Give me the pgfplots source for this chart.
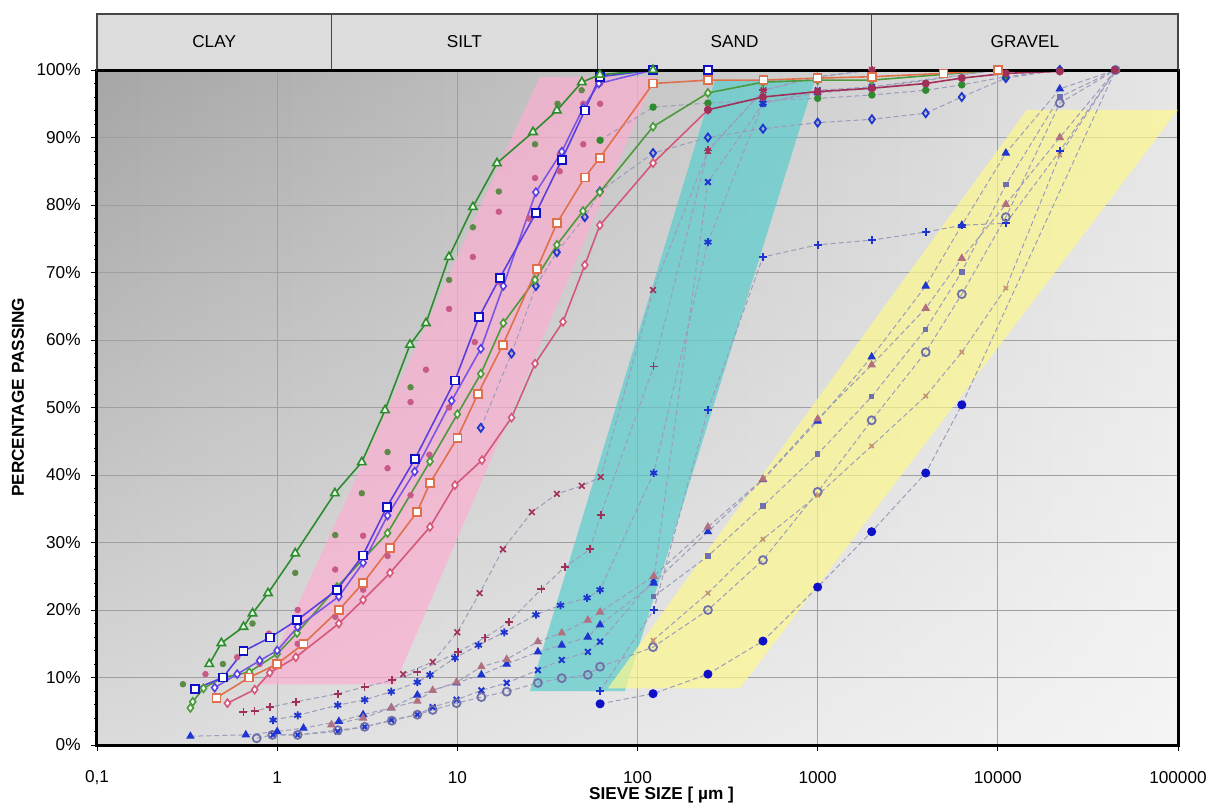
\documentclass[border=0pt]{standalone}
\usepackage{fontspec}
\setmainfont{Liberation Sans}
\usepackage{pgfplots}
\pgfplotsset{compat=1.18}
\usetikzlibrary{fadings}

\definecolor{gtri}{HTML}{2E8B2E}
\definecolor{vio}{HTML}{7B55E6}
\definecolor{vio2}{HTML}{5A3FE0}
\definecolor{ora}{HTML}{E0704C}
\definecolor{gdi}{HTML}{4C9A3C}
\definecolor{pdi}{HTML}{D4587A}
\definecolor{maroon}{HTML}{A0305A}
\definecolor{bl}{HTML}{1F35D0}
\definecolor{dkbl}{HTML}{1010C8}
\definecolor{gcirc}{HTML}{7070A8}
\definecolor{brtri}{HTML}{B07080}
\definecolor{tanx}{HTML}{C09070}
\definecolor{smsq}{HTML}{7070B0}
\definecolor{dashc}{HTML}{9C9CBC}
\definecolor{pinkdot}{HTML}{C85A8A}
\definecolor{olivedot}{HTML}{5E8A48}
\definecolor{bandpink}{HTML}{FCAFD1}
\definecolor{bandcyan}{HTML}{59CCCC}
\definecolor{bandyel}{HTML}{FDF88E}
\definecolor{boxgray}{HTML}{DCDCDC}
\definecolor{bgleft}{HTML}{A6A6A6}
\definecolor{bgright}{HTML}{E6E6E6}

\pgfplotsset{
  fine/.style={line width=0.8pt, mark size=2pt},
  low/.style={color=dashc, line width=0.5pt, dash pattern=on 2.5pt off 1.5pt, mark size=2pt},
  dots/.style={only marks, mark=*, mark size=1.4pt},
}

\begin{document}
\begin{tikzpicture}[font=\fontsize{8.6}{10.3}\selectfont]
\begin{axis}[name=a,
  scale only axis, width=540.5pt, height=337.5pt,
  xmode=log, log basis x=10,
  xmin=0.1, xmax=100000, ymin=0, ymax=100,
  xtick={0.1,1,10,100,1000,10000,100000},
  xticklabels={{0,1},1,10,100,1000,10000,100000},
  ytick={0,10,...,100},
  yticklabels={0\%,10\%,20\%,30\%,40\%,50\%,60\%,70\%,80\%,90\%,100\%},
  minor y tick num=4,
  tick align=outside, tick pos=left,
  major tick length=3pt, minor tick length=1.5pt,
  tick style={black, line width=0.4pt},
  xmajorgrids, xminorgrids, ymajorgrids,
  major grid style={color=gray!75, line width=0.45pt},
  minor grid style={color=gray!25, line width=0.4pt},
  axis line style={line width=1.5pt, black},
  axis background/.style={shade, left color=bgleft, right color=bgright,
     postaction={fill=white, path fading=north, fill opacity=0.6}},
  clip=false,
  xticklabel style={anchor=center, inner sep=0pt, yshift=-13.5pt},
  yticklabel style={anchor=east, inner sep=0pt, xshift=-5pt},
  xlabel={\bfseries SIEVE SIZE [ µm ]},
  ylabel={\bfseries PERCENTAGE PASSING},
  every axis x label/.style={at={(rel axis cs:0.5,0)}, anchor=center, yshift=-25pt, xshift=12pt},
  every axis y label/.style={at={(rel axis cs:0,0.515)}, anchor=center, xshift=-39.5pt, rotate=90},
]

% soil classification boxes
\draw[fill=boxgray, draw=gray!55!black, line width=0.6pt] (axis cs:0.1,100) rectangle (axis cs:2,108.3);
\draw[fill=boxgray, draw=gray!55!black, line width=0.6pt] (axis cs:2,100) rectangle (axis cs:60,108.3);
\draw[fill=boxgray, draw=gray!55!black, line width=0.6pt] (axis cs:60,100) rectangle (axis cs:2000,108.3);
\draw[fill=boxgray, draw=gray!55!black, line width=0.6pt] (axis cs:2000,100) rectangle (axis cs:100000,108.3);
\node at (axis cs:0.447,104.15) {CLAY};
\node at (axis cs:10.95,104.15) {SILT};
\node at (axis cs:346,104.15) {SAND};
\node at (axis cs:14142,104.15) {GRAVEL};

% envelopes
\addplot[draw=none, fill=bandpink, fill opacity=0.7] coordinates {(0.82,9)(4.5,9)(125,99)(28.7,99)} --cycle;
\addplot[draw=none, fill=bandcyan, fill opacity=0.7] coordinates {(25.3,8)(85.1,8)(964,98.5)(269,98.5)} --cycle;
\addplot[draw=none, fill=bandyel, fill opacity=0.7] coordinates {(68.5,8.4)(370,8.4)(100000,94.1)(14490,94.1)} --cycle;

% scattered dots in the fine band
\addplot[dots, mark options={fill=olivedot, draw=olivedot}] coordinates {(0.3,9)(0.5,12)(0.73,18)(1.26,25.5)(2.1,31.1)(2.95,37.3)(4.1,43.4)(5.5,53)(9,68.9)(12.2,76.7)(17,82)(27,89)(36,95)(49,97)(62,99)};
\addplot[dots, mark options={fill=pinkdot, draw=pinkdot}] coordinates {(0.4,10.5)(0.6,13)(0.9,16.5)(1.3,20)(2.1,26)(3,31)(4.1,41)(5.5,50.8)(6.7,55.6)(9,64.6)(12.2,72.3)(17,79)(27,84)(37,87.5)(50,95)(62,98)};
\addplot[dots, mark options={fill=pinkdot, draw=pinkdot}] coordinates {(0.5,10)(0.8,12)(1.3,15)(2.1,19)(3,23)(4.1,28)(5.5,37)(7,43)(9,50)(12.5,59.7)(17,68.6)(25,78)(37,85)(50,89)(62,95)(122,98)};

% lower (sand / gravel) series with dashed connectors
\addplot[low, mark=x, mark options={solid, draw=maroon, line width=0.8pt}] coordinates {(5,10.5)(7.3,12.3)(10,16.7)(13.3,22.5)(17.9,29)(25.9,34.5)(35.7,37.2)(49.1,38.4)(62.5,39.7)(122,67.4)(246,88)(500,97)(1000,99)(2000,100)};
\addplot[low, mark=+, mark options={solid, draw=maroon, line width=0.8pt}] coordinates {(0.65,4.9)(0.75,5)(0.91,5.6)(1.27,6.4)(2.17,7.6)(3.06,8.6)(4.33,9.6)(6.0,10.8)(10.1,13.8)(14.2,15.9)(19.3,18.2)(29.3,23.1)(39.5,26.4)(54.5,29)(62.5,34.1)(123,56.1)(246,88.1)(500,97)(1000,99)(2000,100)};
\addplot[low, mark=asterisk, mark options={solid, draw=bl, line width=0.9pt}] coordinates {(0.95,3.7)(1.3,4.4)(2.17,5.9)(3.06,6.7)(4.3,7.9)(6,9.3)(7.05,10.4)(9.7,12.9)(13.1,14.8)(18.2,16.7)(27.3,19.3)(37.4,20.7)(52.5,21.8)(62,23)(123,40.3)(246,74.5)(497,95.1)(1000,96.6)(2000,97.3)(10000,100)};
\addplot[low, mark=x, mark options={solid, draw=bl, line width=1pt}] coordinates {(0.95,1.5)(1.3,1.5)(2.17,2)(3.06,2.7)(4.3,3.7)(6,4.5)(7.3,5.6)(9.9,6.7)(13.6,8.1)(18.8,9.2)(28,11.1)(38,12.6)(53,13.8)(62,15.3)(123,24.5)(246,83.4)(497,95)(1000,97)(2000,97.5)(10000,100)};
\addplot[low, mark=+, mark options={solid, draw=bl, line width=1pt}] coordinates {(62,8)(123,20)(246,49.6)(497,72.3)(1000,74.1)(2000,74.8)(3980,76)(6310,77)(11080,77.3)(22080,88)(45000,100)};
\addplot[low, mark=*, mark options={solid, draw=dkbl, fill=dkbl}] coordinates {(62,6.1)(122,7.6)(246,10.5)(497,15.4)(1000,23.4)(1995,31.6)(3980,40.3)(6310,50.4)(45000,100)};
\addplot[low, mark=o, mark options={solid, draw=gcirc, line width=0.9pt}] coordinates {(0.77,1)(0.94,1.5)(1.3,1.5)(2.17,2.2)(3.06,2.7)(4.33,3.6)(6,4.5)(7.3,5.2)(9.9,6.2)(13.6,7.1)(18.8,7.9)(28,9.2)(38,9.9)(53,10.4)(62,11.6)(122,14.5)(246,20)(497,27.4)(1000,37.5)(1995,48.1)(3980,58.2)(6310,66.8)(11080,78.2)(22080,95.1)(45000,100)};
\addplot[low, mark=triangle*, mark options={solid, draw=bl, fill=bl}] coordinates {(0.33,1.3)(0.67,1.5)(1,2)(1.4,2.5)(2.2,3.5)(3,4.5)(4.3,5.5)(6,7.4)(9.9,9.2)(13.6,10.4)(18.8,12)(28,13.8)(38,14.8)(53,16)(62,17.8)(123,24)(246,31.6)(497,39.3)(1000,48)(1995,57.5)(3980,68)(6310,77)(11080,87.7)(22080,97.2)(45000,100)};
\addplot[low, mark=triangle*, mark options={solid, draw=brtri, fill=brtri}] coordinates {(2,3)(3,4)(4.3,5.5)(6,6.5)(7.3,8.1)(9.9,9.3)(13.6,11.6)(18.8,12.7)(28,15.3)(38,16.6)(53,18.5)(62,19.7)(123,25)(246,32.3)(497,39.4)(1000,48.3)(1995,56.3)(3980,64.7)(6310,72.1)(11080,80.1)(22080,90)(45000,100)};
\addplot[low, mark=square*, mark size=1.1pt, mark options={solid, draw=smsq, fill=smsq}] coordinates {(123,22)(246,28)(497,35.4)(1000,43.1)(1995,51.6)(3980,61.6)(6310,70.1)(11080,83)(22080,96)(45000,100)};
\addplot[low, mark=x, mark size=1.5pt, mark options={solid, draw=tanx, line width=0.8pt}] coordinates {(122,15.5)(246,22.5)(497,30.5)(1000,37)(1995,44.3)(3980,51.7)(6310,58.2)(11080,67.7)(22080,87.4)(45000,100)};
\addplot[low, mark=*, mark size=1.6pt, mark options={solid, draw=gtri, fill=gtri}] coordinates {(62,89.6)(122,94.5)(246,95.1)(1000,95.8)(2000,96.3)(3980,97)(6310,97.8)(11080,99)(22080,100)};
\addplot[low, mark=diamond, mark options={solid, draw=bl, line width=0.9pt}] coordinates {(13.5,47)(20,58)(27.3,68)(35.7,73)(51,78.2)(61.8,82)(122,87.7)(246,90)(497,91.3)(1000,92.2)(2000,92.7)(3980,93.6)(6310,96)(11080,98.8)(22080,100)};

% fine soils (solid lines)
\addplot[fine, color=pdi, mark=diamond*, mark options={fill=white, draw=pdi}] coordinates {(0.53,6.2)(0.75,8.2)(0.91,10.7)(1.27,13)(2.2,18)(3.0,21.5)(4.23,25.5)(7.05,32.3)(9.7,38.5)(13.7,42.2)(20,48.5)(27,56.5)(38.6,62.7)(51,71.1)(61.8,77)(122,86.2)(246,94.1)};
\addplot[fine, color=maroon, mark=*, mark size=1.6pt, mark options={fill=maroon}] coordinates {(246,94.1)(497,96)(1000,96.8)(2000,97.3)(3980,98)(6310,98.8)(11080,99.5)(22080,99.8)(44600,100)};
\addplot[fine, color=gdi, mark=diamond*, mark options={fill=green!8, draw=gdi}] coordinates {(0.33,5.5)(0.34,6.4)(0.39,8.4)(0.5,10)(0.7,10.8)(1.0,13.5)(1.29,16.6)(2.15,23.4)(4.1,31.4)(7.05,42)(10,49)(13.5,55)(18,62.5)(27,68.9)(35.7,74.1)(49.8,79.1)(61.8,81.9)(122,91.6)(246,96.6)(497,98.2)(1000,98.5)(2000,98.5)(10000,100)};
\addplot[fine, color=ora, mark=square*, mark options={fill=white, draw=ora}] coordinates {(0.46,7)(0.7,10)(1.0,12)(1.4,15)(2.2,20)(3,24)(4.23,29.2)(5.97,34.5)(7.05,38.8)(10,45.5)(13,52)(17.9,59.3)(27.6,70.5)(35.7,77.3)(51,84.1)(61.8,87)(122,98)(246,98.5)(500,98.5)(1000,98.8)(2000,99)(5000,99.5)(10000,100)};
\addplot[fine, color=vio, mark=diamond*, mark options={fill=white, draw=vio2}] coordinates {(0.45,8.5)(0.6,10.5)(0.8,12.5)(1.0,14)(1.3,17.5)(2.2,22)(3.0,27)(4.1,34)(5.8,40.5)(9.3,51)(13.5,58.7)(18,68)(27.3,81.9)(38,87.9)(50,94.4)(61,98)(122,100)};
\addplot[fine, color=vio2, mark=square*, mark options={fill=white, draw=dkbl}] coordinates {(0.35,8.3)(0.5,10)(0.65,13.9)(0.91,15.9)(1.29,18.5)(2.15,23)(2.99,28.1)(4.07,35.3)(5.82,42.4)(9.7,54)(13.2,63.4)(17.2,69.2)(27.3,78.8)(38,86.7)(51,94)(61.8,99)(122,100)(246,100)};
\addplot[fine, color=gtri, mark=triangle*, mark size=2.4pt, mark options={fill=green!10, draw=gtri}] coordinates {(0.42,12)(0.49,15.1)(0.65,17.5)(0.73,19.5)(0.89,22.5)(1.26,28.4)(2.09,37.3)(2.95,41.9)(3.97,49.6)(5.46,59.3)(6.7,62.5)(8.98,72.3)(12.2,79.7)(16.6,86.2)(26.3,90.8)(35.7,94)(49.1,98.2)(61.8,99.3)(122,100)};

\draw[line width=1.5pt, black] (axis cs:0.1,100) -- (axis cs:100000,100);
\end{axis}
\pgfresetboundingbox
\path ([shift={(-48.5pt,-30pt)}]a.south west) rectangle ([shift={(16pt,35pt)}]a.north east);
\end{tikzpicture}
\end{document}
